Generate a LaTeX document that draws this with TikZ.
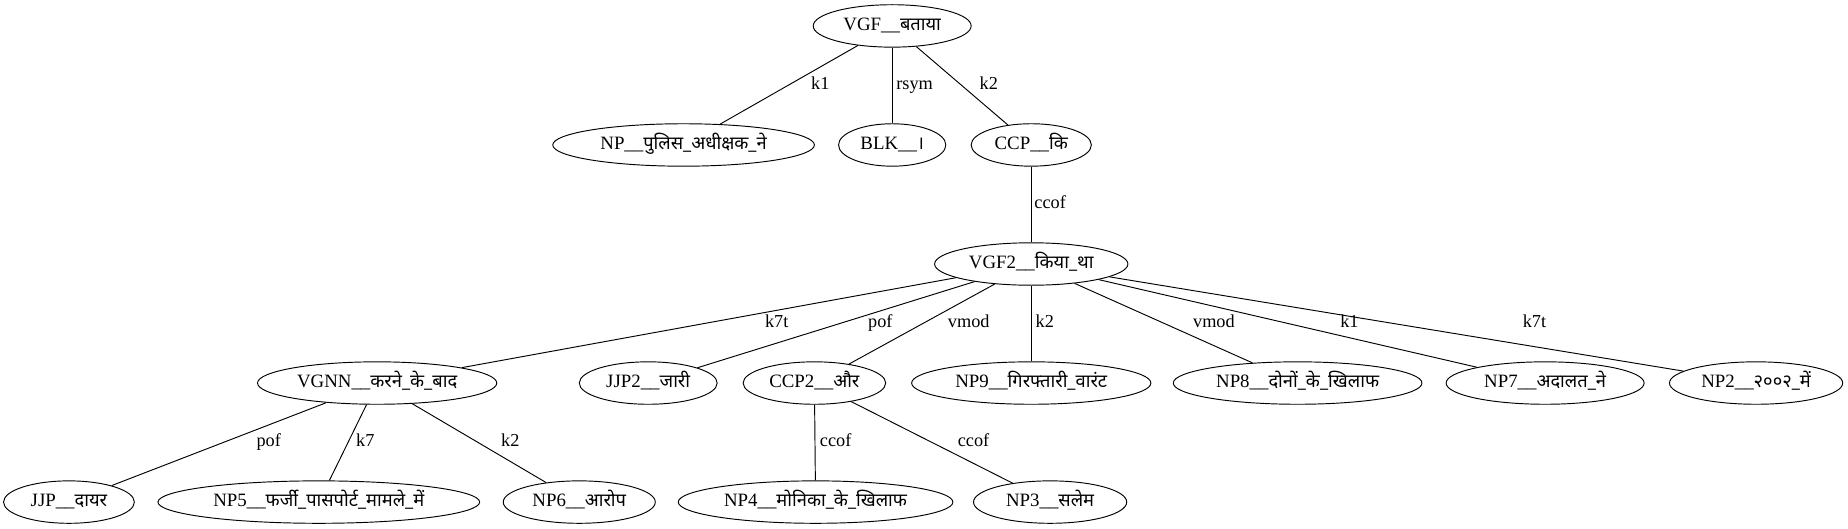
\documentclass[tikz,border=0pt]{standalone}
\usepackage{fontspec}
\setmainfont{Liberation Serif}
\newfontfamily\devf[Script=Devanagari,Scale=0.97]{Noto Sans}
\usetikzlibrary{shapes.geometric}
\newcommand{\dv}[1]{{\devf #1}}
\begin{document}
\begin{tikzpicture}[x=1pt,y=-1pt,
  nd/.style={draw, ellipse, line width=0.8pt, inner sep=0pt, minimum height=36pt,
    font=\fontsize{16}{18}\selectfont, text height=11pt, text depth=4pt},
  lbl/.style={font=\fontsize{15.5}{17}\selectfont, inner sep=0pt, text height=10.5pt, text depth=4pt},
  edge/.style={line width=0.8pt}]
\useasboundingbox (0,0) rectangle (1568,448);
% row 1
\node[nd, minimum width=134pt] (vgf) at (757,22) {VGF\_\_\dv{बताया}};
% row 2
\node[nd, minimum width=222pt] (np) at (580,123) {NP\_\_\dv{पुलिस\_अधीक्षक\_ने}};
\node[nd, minimum width=91pt] (blk) at (757,123) {BLK\_\_\dv{।}};
\node[nd, minimum width=102pt] (ccp) at (875,123) {CCP\_\_\dv{कि}};
% row 3
\node[nd, minimum width=164pt] (vgf2) at (875,224) {VGF2\_\_\dv{किया\_था}};
% row 4
\node[nd, minimum width=203pt] (vgnn) at (320,325) {VGNN\_\_\dv{करने\_के\_बाद}};
\node[nd, minimum width=117pt] (jjp2) at (550,325) {JJP2\_\_\dv{जारी}};
\node[nd, minimum width=121pt] (ccp2) at (691,325) {CCP2\_\_\dv{और}};
\node[nd, minimum width=203pt] (np9) at (875,325) {NP9\_\_\dv{गिरफ्तारी\_वारंट}};
\node[nd, minimum width=211pt] (np8) at (1101,325) {NP8\_\_\dv{दोनों\_के\_खिलाफ}};
\node[nd, minimum width=168pt] (np7) at (1311,325) {NP7\_\_\dv{अदालत\_ने}};
\node[nd, minimum width=147pt] (np2) at (1490,325) {NP2\_\_\dv{२००२\_में}};
% row 5
\node[nd, minimum width=111pt] (jjp) at (58.5,426) {JJP\_\_\dv{दायर}};
\node[nd, minimum width=273pt] (np5) at (270.5,426) {NP5\_\_\dv{फर्जी\_पासपोर्ट\_मामले\_में}};
\node[nd, minimum width=129pt] (np6) at (491.5,426) {NP6\_\_\dv{आरोप}};
\node[nd, minimum width=233pt] (np4) at (692,426) {NP4\_\_\dv{मोनिका\_के\_खिलाफ}};
\node[nd, minimum width=130pt] (np3) at (891,426) {NP3\_\_\dv{सलेम}};
% edges
\draw[edge] (vgf) -- (np);
\draw[edge] (vgf) -- (blk);
\draw[edge] (vgf) -- (ccp);
\draw[edge] (ccp) -- (vgf2);
\draw[edge] (vgf2) -- (vgnn);
\draw[edge] (vgf2) -- (jjp2);
\draw[edge] (vgf2) -- (ccp2);
\draw[edge] (vgf2) -- (np9);
\draw[edge] (vgf2) -- (np8);
\draw[edge] (vgf2) -- (np7);
\draw[edge] (vgf2) -- (np2);
\draw[edge] (vgnn) -- (jjp);
\draw[edge] (vgnn) -- (np5);
\draw[edge] (vgnn) -- (np6);
\draw[edge] (ccp2) -- (np4);
\draw[edge] (ccp2) -- (np3);
% labels
\node[lbl] (l1) at (696,72.5) {k1};
\node[lbl] (l2) at (776,72.5) {rsym};
\node[lbl] (l3) at (839,72.5) {k2};
\node[lbl] (l4) at (891,173.5) {ccof};
\node[lbl] (l5) at (659,274.5) {k7t};
\node[lbl] (l6) at (747,274.5) {pof};
\node[lbl] (l7) at (822,274.5) {vmod};
\node[lbl] (l8) at (886.5,274.5) {k2};
\node[lbl] (l9) at (1030,274.5) {vmod};
\node[lbl] (l10) at (1145,274.5) {k1};
\node[lbl] (l11) at (1302,274.5) {k7t};
\node[lbl] (l12) at (228,375.5) {pof};
\node[lbl] (l13) at (310,375.5) {k7};
\node[lbl] (l14) at (433,375.5) {k2};
\node[lbl] (l15) at (709,375.5) {ccof};
\node[lbl] (l16) at (826,375.5) {ccof};
\end{tikzpicture}
\end{document}
